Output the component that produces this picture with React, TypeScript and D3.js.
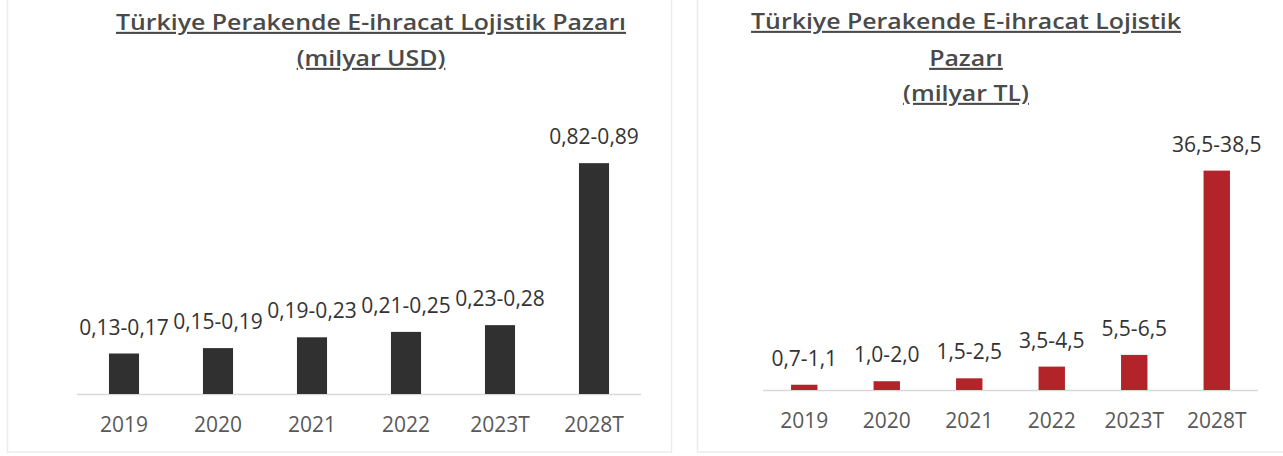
import React from "react";
import * as d3 from "d3";

const categories = ["2019", "2020", "2021", "2022", "2023T", "2028T"];
const usdLabels = ["0,13-0,17", "0,15-0,19", "0,19-0,23", "0,21-0,25", "0,23-0,28", "0,82-0,89"];
const usdValues = [0.15, 0.17, 0.21, 0.23, 0.255, 0.855];
const tlLabels = ["0,7-1,1", "1,0-2,0", "1,5-2,5", "3,5-4,5", "5,5-6,5", "36,5-38,5"];
const tlValues = [0.9, 1.5, 2.0, 4.0, 6.0, 37.5];
const usdTitle = ["Türkiye Perakende E-ihracat Lojistik Pazarı", "(milyar USD)"];
const tlTitle = ["Türkiye Perakende E-ihracat Lojistik", "Pazarı", "(milyar TL)"];

const FONT = "'Open Sans', 'Noto Sans', sans-serif";

type PanelProps = {
  values: number[];
  labels: string[];
  title: string[];
  titleY: number[];
  titleX: number;
  x0: number;
  x1: number;
  baseY: number;
  yMax: number;
  topY: number;
  color: string;
};

function Panel({ values, labels, title, titleY, titleX, x0, x1, baseY, yMax, topY, color }: PanelProps) {
  const x = d3.scaleBand<string>().domain(categories).range([x0, x1]).paddingInner(0.68).paddingOuter(0.34);
  const y = d3.scaleLinear().domain([0, yMax]).range([baseY, topY]);
  return (
    <g>
      {title.map((t, i) => (
        <text
          key={i}
          transform={`translate(${titleX},${titleY[i]}) scale(1.185,1)`}
          textAnchor="middle"
          fontFamily={FONT}
          fontWeight={600}
          fontSize={21}
          fill="#4a4a4a"
          textDecoration="underline"
        >
          {t}
        </text>
      ))}
      <line x1={x0} x2={x1} y1={baseY + 0.5} y2={baseY + 0.5} stroke="#d9d9d9" strokeWidth={1.5} />
      {categories.map((c, i) => (
        <g key={c}>
          <rect x={x(c)} y={y(values[i])} width={x.bandwidth()} height={baseY - y(values[i])} fill={color} />
          <text
            x={(x(c) as number) + x.bandwidth() / 2}
            y={y(values[i]) - 19}
            textAnchor="middle"
            fontFamily={FONT}
            fontSize={21}
            fill="#333333"
          >
            {labels[i]}
          </text>
          <text
            x={(x(c) as number) + x.bandwidth() / 2}
            y={baseY + 38}
            textAnchor="middle"
            fontFamily={FONT}
            fontSize={21}
            fill="#595959"
          >
            {c}
          </text>
        </g>
      ))}
    </g>
  );
}

export default function App() {
  return (
    <svg
      width={1283}
      height={456}
      style={{ position: "absolute", left: 0, top: 0, background: "#ffffff" }}
    >
      <rect x={0} y={0} width={1283} height={456} fill="#ffffff" />
      <rect x={7.5} y={-1} width={664} height={453} fill="none" stroke="#ececec" strokeWidth={1.5} />
      <rect x={697.5} y={-1} width={590} height={453} fill="none" stroke="#ececec" strokeWidth={1.5} />
      <Panel
        values={usdValues}
        labels={usdLabels}
        title={usdTitle}
        titleY={[30, 66]}
        titleX={371}
        x0={77}
        x1={641}
        baseY={394}
        yMax={1}
        topY={124}
        color="#303030"
      />
      <Panel
        values={tlValues}
        labels={tlLabels}
        title={tlTitle}
        titleY={[29, 66, 101]}
        titleX={966}
        x0={763}
        x1={1258}
        baseY={390}
        yMax={40}
        topY={156}
        color="#b3242a"
      />
    </svg>
  );
}
